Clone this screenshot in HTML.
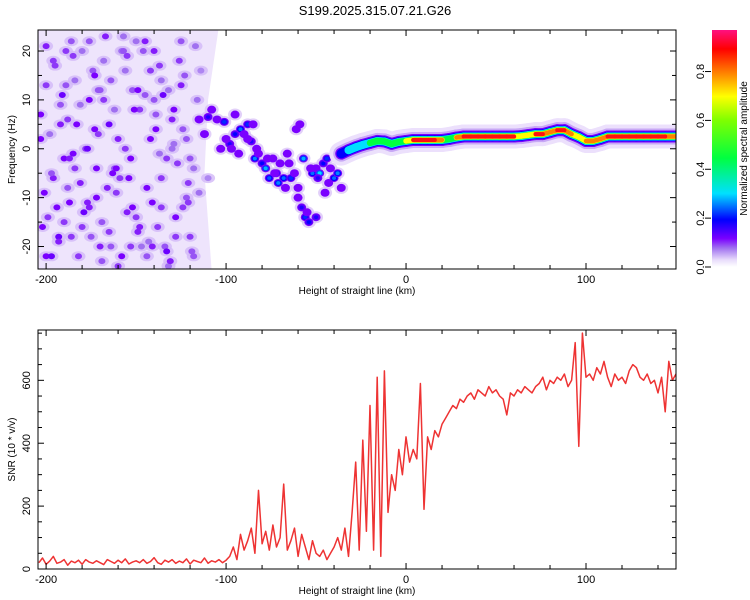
<!DOCTYPE html>
<html><head><meta charset="utf-8"><style>
body{margin:0;background:#fff;}
svg{display:block;font-family:"Liberation Sans",sans-serif;}
</style></head><body>
<svg id="c" width="750" height="600" viewBox="0 0 750 600">
<defs>
<clipPath id="clipTop"><rect x="38" y="30" width="638" height="239"/></clipPath>
<clipPath id="clipBot"><rect x="38" y="330" width="638" height="239"/></clipPath>
<linearGradient id="cbar" x1="0" y1="1" x2="0" y2="0">
<stop offset="0" stop-color="#ffffff"/><stop offset="0.03" stop-color="#e8dcfb"/><stop offset="0.08" stop-color="#a070f0"/>
<stop offset="0.12" stop-color="#7a00ff"/><stop offset="0.2" stop-color="#0000ff"/><stop offset="0.31" stop-color="#00e0ff"/>
<stop offset="0.46" stop-color="#00ff40"/><stop offset="0.62" stop-color="#80ff00"/><stop offset="0.72" stop-color="#ffff00"/>
<stop offset="0.82" stop-color="#ff8000"/><stop offset="0.92" stop-color="#ff0000"/><stop offset="1" stop-color="#ff1080"/>
</linearGradient>
</defs>
<text x="375" y="15" text-anchor="middle" font-size="13">S199.2025.315.07.21.G26</text>
<g id="top"></g>
<g id="bot"></g>
<g id="cb"></g>
</svg>
<script>
// ---- data ----
const xDomain = [-204.5, 150];
const freqDomain = [-24.6, 24.3];
const snrDomain = [0, 760];
const xTicks = [-200, -100, 0, 100];
const freqTicks = [-20, -10, 0, 10, 20];
const snrTicks = [0, 200, 400, 600];
const cbTicks = [0, 0.2, 0.4, 0.6, 0.8];
// ridge: km, Hz, amplitude
const ridgeKm =  [-36,-32,-28,-24,-20,-16,-12,-8,-4,0,4,8,12,16,20,24,28,32,36,40,44,48,52,56,60,64,68,72,76,80,84,88,92,96,100,104,108,112,116,120,124,128,132,136,140,144,150];
const ridgeHz =  [-1,-0.3,0.3,0.8,1.2,1.6,1.5,1.0,1.4,1.6,1.8,1.8,1.8,1.8,1.8,2.0,2.3,2.5,2.5,2.5,2.5,2.5,2.5,2.5,2.5,2.6,2.8,3.0,3.0,3.4,3.8,3.8,3.0,2.4,1.6,1.6,2.0,2.5,2.5,2.5,2.5,2.5,2.5,2.5,2.5,2.5,2.5];
const ridgeAmp = [0.35,0.42,0.5,0.5,0.6,0.75,0.6,0.8,0.6,0.75,0.9,0.95,0.95,0.95,0.85,0.65,0.8,0.9,0.95,0.97,0.97,0.97,0.97,0.97,0.9,0.7,0.75,0.88,0.9,0.8,0.88,0.9,0.82,0.75,0.88,0.85,0.8,0.92,0.97,0.97,0.97,0.97,0.97,0.97,0.95,0.9,0.85];
// mid-region blobs: km, Hz, amplitude
const blobKm =  [-115,-110,-105,-101,-98,-95,-92,-90,-88,-86,-84,-82,-80,-78,-76,-74,-72,-70,-68,-66,-64,-62,-60,-58,-56,-54,-52,-50,-48,-46,-44,-42,-40,-38,-36,-103,-97,-93,-83,-77,-71,-65,-57,-53,-49,-61,-59,-55,-50,-108,-100,-88,-73,-67,-45,-43,-112,-95,-85,-60];
const blobHz =  [6,6.5,6,5.5,1,3,4,3,5,1.5,-2,-1,-3,-4,-6,-2,-5,-3,-6,-1,-6,-5,-10,-12,-14,-15,-5,-4,-5,-3,-2,-4,-6,-5,-8,0,0,-1,0,-2,-7,-3,-2,-4,-6,4,5,-13,-14,8,2,2,-5,-8,-9,-7,3,7,5,-8];
const blobAmp = [0.14,0.18,0.15,0.22,0.18,0.2,0.25,0.14,0.22,0.18,0.26,0.12,0.2,0.28,0.24,0.14,0.2,0.15,0.25,0.15,0.22,0.14,0.12,0.18,0.22,0.2,0.25,0.15,0.3,0.2,0.22,0.14,0.25,0.26,0.15,0.12,0.14,0.12,0.12,0.14,0.26,0.14,0.28,0.14,0.18,0.12,0.12,0.12,0.18,0.1,0.1,0.1,0.12,0.1,0.1,0.1,0.1,0.1,0.12,0.1];
// left noise blobs: km, Hz, amplitude
const noiseKm = [-200,-196,-192,-188,-184,-180,-176,-172,-168,-164,-160,-156,-152,-148,-144,-140,-136,-132,-128,-124,-120,-116,-200,-194,-186,-178,-170,-162,-154,-146,-138,-130,-122,-198,-190,-182,-174,-166,-158,-150,-142,-134,-126,-118,-202,-192,-184,-176,-168,-160,-152,-144,-136,-128,-120,-196,-188,-180,-172,-164,-156,-148,-140,-132,-124,-114,-200,-186,-170,-158,-142,-130,-118,-190,-176,-162,-150,-136,-122,-110,
 -203,-197,-193,-189,-185,-181,-177,-173,-169,-165,-161,-157,-153,-149,-145,-141,-137,-133,-129,-125,-121,-117,-201,-195,-187,-179,-171,-163,-155,-147,-139,-131,-123,-199,-191,-183,-175,-167,-159,-151,-143,-135,-127,-119,-203,-193,-185,-177,-169,-161,-153,-145,-137,-129,-121,-197,-189,-181,-173,-165,-157,-149,-141,-133,-125,-115,-187,-171,-155,-139];
const noiseHz = [-22,18,5,-8,14,-16,22,-4,10,-20,2,16,-12,8,-22,20,-6,12,-14,4,-18,10,13,-12,22,0,-20,8,-6,20,-16,6,-10,3,-2,-22,16,-8,20,-14,2,-20,18,-4,-16,9,-4,-12,18,-24,12,-8,14,-18,-2,-6,6,20,-10,14,0,-16,10,-24,-12,16,21,-18,12,-22,16,0,-22,-15,10,-4,22,-12,2,-6,
 7,-5,-18,20,-1,9,-11,15,-23,5,-9,23,-2,-17,11,-11,17,-21,1,13,-7,21,-9,17,-2,-13,12,-5,19,-20,4,-23,15,-14,11,5,-18,23,-6,8,-19,11,-3,-21,2,-19,19,0,-15,-4,-20,22,-1,8,-11,-22,13,-7,4,-17,20,12,-20,-2,22,-9,-11,3,-13,7];
const noiseAmp = [0.12,0.1,0.11,0.09,0.08,0.1,0.09,0.12,0.1,0.09,0.11,0.08,0.12,0.1,0.09,0.11,0.1,0.08,0.12,0.09,0.1,0.08,0.1,0.12,0.09,0.1,0.11,0.08,0.12,0.09,0.1,0.11,0.09,0.08,0.12,0.1,0.09,0.11,0.08,0.1,0.12,0.09,0.1,0.08,0.12,0.09,0.1,0.11,0.08,0.1,0.09,0.12,0.08,0.1,0.09,0.11,0.1,0.08,0.12,0.09,0.1,0.11,0.09,0.08,0.1,0.07,0.11,0.1,0.09,0.12,0.1,0.08,0.09,0.1,0.12,0.09,0.08,0.1,0.09,0.07,
 0.12,0.09,0.13,0.1,0.12,0.08,0.11,0.12,0.09,0.13,0.1,0.08,0.12,0.11,0.09,0.12,0.1,0.13,0.08,0.11,0.1,0.08,0.12,0.1,0.11,0.13,0.09,0.12,0.1,0.08,0.12,0.11,0.09,0.1,0.13,0.12,0.09,0.11,0.1,0.12,0.08,0.13,0.1,0.09,0.12,0.11,0.1,0.13,0.09,0.12,0.1,0.11,0.08,0.12,0.1,0.13,0.09,0.11,0.12,0.1,0.09,0.12,0.11,0.1,0.09,0.08,0.12,0.1,0.11,0.09];
// SNR: start km, step km, values
const snrStartKm = -204;
const snrStepKm = 2;
const snrValues = [
20,35,15,25,40,18,22,30,12,25,20,28,15,30,22,18,26,20,14,30,24,18,28,20,32,16,22,26,20,30,18,24,36,20,15,28,22,30,18,25,20,32,16,28,24,20,35,18,26,22,30,20,28,
40,70,30,110,60,90,130,50,250,80,120,60,140,70,100,270,60,90,130,40,110,70,30,90,50,40,60,30,50,70,
100,60,130,40,180,340,60,410,120,520,60,610,40,630,180,300,250,380,300,420,340,380,350,590,190,420,380,440,420,460,
480,500,520,510,540,530,550,560,540,570,560,550,580,560,570,550,540,490,560,550,570,560,580,570,560,580,590,610,570,600,
590,610,600,620,580,600,720,390,750,610,620,600,640,620,660,610,580,620,600,610,590,630,650,640,610,600,620,590,600,560,
610,500,660,600,620];

// ---- helpers ----
const NS = "http://www.w3.org/2000/svg";
function mk(tag, attrs, parent){const e=document.createElementNS(NS,tag);for(const k in attrs)e.setAttribute(k,attrs[k]);parent.appendChild(e);return e;}
const X0=38,X1=676, TY0=30,TY1=269, BY0=330,BY1=569;
const xs = v => X0+(v-xDomain[0])/(xDomain[1]-xDomain[0])*(X1-X0);
const fy = v => TY1-(v-freqDomain[0])/(freqDomain[1]-freqDomain[0])*(TY1-TY0);
const sy = v => BY1-(v-snrDomain[0])/(snrDomain[1]-snrDomain[0])*(BY1-BY0);
const stops=[[0,[255,255,255]],[0.03,[232,220,251]],[0.08,[160,112,240]],[0.12,[122,0,255]],[0.2,[0,0,255]],[0.3,[0,224,255]],[0.45,[0,255,64]],[0.6,[128,255,0]],[0.7,[255,255,0]],[0.8,[255,128,0]],[0.9,[255,0,0]],[1,[255,16,128]]];
function cmap(a){for(let i=1;i<stops.length;i++){if(a<=stops[i][0]){const [a0,c0]=stops[i-1],[a1,c1]=stops[i];const t=(a-a0)/(a1-a0);return `rgb(${c0.map((c,j)=>Math.round(c+(c1[j]-c)*t)).join(',')})`;}}return 'rgb(255,16,128)';}

const topG=document.getElementById('top'), botG=document.getElementById('bot'), cbG=document.getElementById('cb');

// ---- top panel ----
const tg=mk('g',{'clip-path':'url(#clipTop)'},topG);
const haze=mk('polygon',{points:`${xs(-205)},${fy(25)} ${xs(-104)},${fy(25)} ${xs(-110)},${fy(10)} ${xs(-112)},${fy(-5)} ${xs(-108)},${fy(-25)} ${xs(-205)},${fy(-25)}`,fill:'#eee4fc'},tg);


noiseKm.forEach((k,i)=>{
  const h=mk('ellipse',{cx:xs(k),cy:fy(noiseHz[i]),rx:7,ry:5,fill:'#d2b8f7',opacity:0.8},tg);
  
  
});
noiseKm.forEach((k,i)=>{
  const e=mk('ellipse',{cx:xs(k),cy:fy(noiseHz[i]),rx:3.5,ry:3,fill:cmap(noiseAmp[i])},tg);
  
  
});
blobKm.forEach((k,i)=>{
  const h=mk('ellipse',{cx:xs(k),cy:fy(blobHz[i]),rx:7,ry:6,fill:'#d5bcf7',opacity:0.7},tg);
  
  
});
blobKm.forEach((k,i)=>{
  const a=blobAmp[i];
  const e=mk('ellipse',{cx:xs(k),cy:fy(blobHz[i]),rx:4.5,ry:4,fill:'#7a00ff'},tg);
  
  
  if(a>0.17){const c=mk('ellipse',{cx:xs(k),cy:fy(blobHz[i]),rx:3.5,ry:3,fill:cmap(a*0.8)},tg);
    
    
    const c2=mk('ellipse',{cx:xs(k),cy:fy(blobHz[i]),rx:2,ry:1.8,fill:cmap(a)},tg);
    
    }
});
const layers=[[0,24,'#ece0fc'],[0,16,'#c8a8f6'],[0,12,'#7a00ff'],[0.3,9.5,'#0000ff'],[0.4,8,'#00e0ff'],[0.55,6.5,'#00ff40'],[0.7,5.5,'#ffff00'],[0.8,4.5,'#ff8000'],[0.87,4,'#ff1010']];
layers.forEach(([th,w,col])=>{
  for(let i=0;i<ridgeKm.length-1;i++){
    const a=Math.min(ridgeAmp[i],ridgeAmp[i+1]);
    if(a<th)continue;
    const l=mk('line',{x1:xs(ridgeKm[i]),y1:fy(ridgeHz[i]),x2:xs(ridgeKm[i+1]),y2:fy(ridgeHz[i+1]),stroke:col,'stroke-width':w,'stroke-linecap':'round'},tg);
    
    
  }
});
function frame(g,y0,y1,yTicks,ysc,minorY,name){
  const r=mk('rect',{x:X0,y:y0,width:X1-X0,height:y1-y0,fill:'none',stroke:'#000','stroke-width':1},g);
  
  
  for(let v=-200;v<=150;v+=20){const x=xs(v);const L=v%100===0?6:4;
    mk('line',{x1:x,y1:y1,x2:x,y2:y1-L,stroke:'#000'},g);mk('line',{x1:x,y1:y0,x2:x,y2:y0+L,stroke:'#000'},g);}
  xTicks.forEach(v=>{const t=mk('text',{x:xs(v),y:y1+14,'text-anchor':'middle','font-size':11},g);t.textContent=v;
    
    });
  minorY.forEach(v=>{const y=ysc(v);const L=yTicks.includes(v)?6:4;
    mk('line',{x1:X0,y1:y,x2:X0+L,y2:y,stroke:'#000'},g);mk('line',{x1:X1,y1:y,x2:X1-L,y2:y,stroke:'#000'},g);});
  yTicks.forEach(v=>{const y=ysc(v);const t=mk('text',{x:0,y:0,'text-anchor':'middle','font-size':11,transform:`translate(30,${y}) rotate(-90)`},g);t.textContent=v;
    
    });
  const xt=mk('text',{x:357,y:y1+25,'text-anchor':'middle','font-size':10},g);xt.textContent='Height of straight line (km)';
  
  
}
const fMinor=[];for(let v=-20;v<=20;v+=5)fMinor.push(v);
frame(topG,TY0,TY1,freqTicks,fy,fMinor,'spectrogram');
const yt1=mk('text',{x:0,y:0,'text-anchor':'middle','font-size':10,transform:`translate(15,${(TY0+TY1)/2}) rotate(-90)`},topG);
yt1.textContent='Frequency (Hz)';



// ---- bottom panel ----
const bg=mk('g',{'clip-path':'url(#clipBot)'},botG);
const pts=snrValues.map((v,i)=>`${xs(snrStartKm+i*snrStepKm).toFixed(1)},${sy(v).toFixed(1)}`).join(' ');
const pl=mk('polyline',{points:pts,fill:'none',stroke:'#ee3333','stroke-width':1.5,'stroke-linejoin':'round'},bg);


const sMinor=[];for(let v=0;v<=750;v+=50)sMinor.push(v);
frame(botG,BY0,BY1,snrTicks,sy,sMinor,'snr');
const yt2=mk('text',{x:0,y:0,'text-anchor':'middle','font-size':10,transform:`translate(15,${(BY0+BY1)/2}) rotate(-90)`},botG);
yt2.textContent='SNR (10 * v/v)';



// ---- colorbar ----
const CB0=30,CB1=267;const cbs=v=>CB1-v/0.97*(CB1-CB0);
const cr=mk('rect',{x:712,y:CB0,width:25,height:CB1-CB0,fill:'url(#cbar)'},cbG);


cbTicks.forEach(v=>{const y=cbs(v);mk('line',{x1:705,y1:y,x2:711,y2:y,stroke:'#000'},cbG);
  const t=mk('text',{x:0,y:0,'text-anchor':'middle','font-size':11,transform:`translate(704,${y}) rotate(-90)`},cbG);t.textContent=v.toFixed(1);
  
  });
const ct=mk('text',{x:0,y:0,'text-anchor':'middle','font-size':10,transform:`translate(747,${(CB0+CB1)/2}) rotate(-90)`},cbG);
ct.textContent='Normalized spectral amplitude';


</script>
</body></html>
